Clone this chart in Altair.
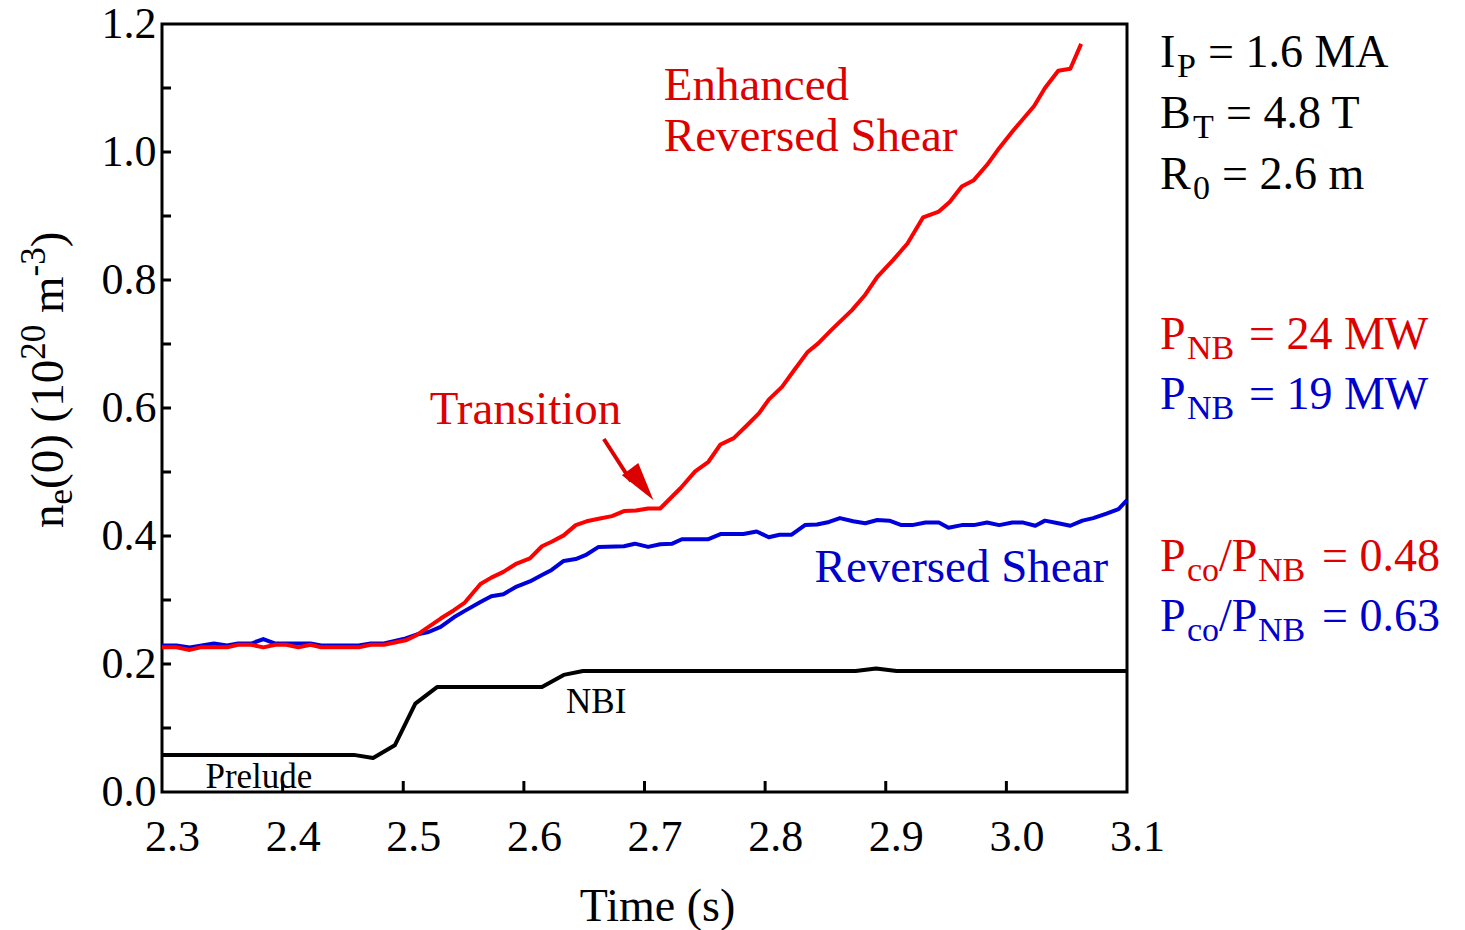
import altair as alt
import pandas as pd

FONT = "Liberation Serif"
RED_LINE = "#ff0000"
BLUE_LINE = "#0000dd"
RED_TEXT = "#dd0000"
BLUE_TEXT = "#0000cc"

# plot frame geometry (pixels)
LEFT, TOP = 162, 24
W, H = 965, 768

# Enhanced reversed shear discharge, central density (1e20 m^-3)
ers_time = [2.300, 2.312, 2.323, 2.332, 2.354, 2.363, 2.374, 2.384, 2.394, 2.403,
            2.413, 2.423, 2.432, 2.463, 2.473, 2.484, 2.502, 2.511, 2.521, 2.531,
            2.542, 2.551, 2.564, 2.573, 2.583, 2.594, 2.605, 2.615, 2.623, 2.633,
            2.643, 2.652, 2.662, 2.673, 2.683, 2.693, 2.703, 2.713, 2.730, 2.742,
            2.753, 2.763, 2.774, 2.785, 2.795, 2.803, 2.814, 2.824, 2.835, 2.844,
            2.855, 2.872, 2.883, 2.893, 2.906, 2.918, 2.931, 2.944, 2.953, 2.963,
            2.973, 2.984, 2.994, 3.005, 3.023, 3.032, 3.043, 3.053, 3.062]
ers_ne = [0.226, 0.226, 0.222, 0.226, 0.226, 0.230, 0.230, 0.226, 0.230, 0.230,
          0.226, 0.230, 0.226, 0.226, 0.230, 0.230, 0.237, 0.245, 0.258, 0.271,
          0.284, 0.296, 0.325, 0.335, 0.344, 0.357, 0.365, 0.384, 0.391, 0.401,
          0.417, 0.423, 0.427, 0.431, 0.439, 0.440, 0.443, 0.443, 0.475, 0.501,
          0.516, 0.543, 0.553, 0.573, 0.592, 0.613, 0.633, 0.659, 0.687, 0.701,
          0.722, 0.753, 0.777, 0.805, 0.831, 0.857, 0.898, 0.907, 0.922, 0.946,
          0.956, 0.980, 1.006, 1.032, 1.072, 1.100, 1.127, 1.130, 1.169]

# Reversed shear discharge
rs_time = [2.300, 2.312, 2.323, 2.343, 2.354, 2.363, 2.374, 2.384, 2.394, 2.423,
           2.432, 2.463, 2.473, 2.484, 2.502, 2.511, 2.521, 2.531, 2.542, 2.551,
           2.564, 2.573, 2.583, 2.594, 2.605, 2.615, 2.623, 2.633, 2.643, 2.652,
           2.662, 2.683, 2.692, 2.703, 2.713, 2.723, 2.731, 2.753, 2.763, 2.782,
           2.793, 2.803, 2.812, 2.822, 2.833, 2.843, 2.853, 2.862, 2.873, 2.883,
           2.893, 2.903, 2.913, 2.922, 2.933, 2.944, 2.952, 2.963, 2.973, 2.984,
           2.994, 3.005, 3.014, 3.024, 3.032, 3.043, 3.053, 3.063, 3.072, 3.083,
           3.093, 3.100]
rs_ne = [0.229, 0.229, 0.226, 0.232, 0.229, 0.232, 0.232, 0.239, 0.232, 0.232,
         0.229, 0.229, 0.232, 0.232, 0.240, 0.246, 0.250, 0.258, 0.273, 0.283,
         0.297, 0.306, 0.309, 0.321, 0.329, 0.339, 0.347, 0.361, 0.364, 0.371,
         0.383, 0.384, 0.388, 0.383, 0.387, 0.388, 0.395, 0.395, 0.403, 0.403,
         0.407, 0.398, 0.402, 0.402, 0.417, 0.418, 0.422, 0.428, 0.423, 0.420,
         0.425, 0.424, 0.417, 0.417, 0.421, 0.421, 0.413, 0.417, 0.417, 0.421,
         0.417, 0.421, 0.421, 0.416, 0.424, 0.420, 0.416, 0.424, 0.428, 0.435,
         0.442, 0.456]

# Neutral beam injection waveform (arbitrary units on the density axis)
nbi_time = [2.300, 2.459, 2.475, 2.493, 2.510, 2.528, 2.615, 2.633, 2.649,
            2.875, 2.892, 2.909, 3.100]
nbi_level = [0.058, 0.058, 0.053, 0.073, 0.138, 0.164, 0.164, 0.183, 0.189,
             0.189, 0.193, 0.189, 0.189]

x_labels = [2.3, 2.4, 2.5, 2.6, 2.7, 2.8, 2.9, 3.0, 3.1]
x_inner_ticks = [2.4, 2.5, 2.6, 2.7, 2.8, 2.9, 3.0]
y_labels = [0.0, 0.2, 0.4, 0.6, 0.8, 1.0, 1.2]
y_inner_ticks = [0.1, 0.2, 0.3, 0.4, 0.5, 0.6, 0.7, 0.8, 0.9, 1.0, 1.1]

xs = alt.Scale(domain=[2.3, 3.1], nice=False, zero=False)
ys = alt.Scale(domain=[0.0, 1.2], nice=False, zero=False)

x_axis = alt.Axis(values=x_labels, format=".1f", labelFont=FONT, labelFontSize=44,
                  labelColor="black", labelPadding=23, labelOffset=10, labelFlush=False,
                  labelOverlap=False, ticks=False, domain=False, grid=False,
                  title="Time (s)", titleFont=FONT, titleFontSize=46, titleFontWeight="normal",
                  titleColor="black", titleX=495, titleY=128, titleAlign="center",
                  titleBaseline="alphabetic", titleAnchor="start")
y_axis = alt.Axis(values=y_labels, format=".1f", labelFont=FONT, labelFontSize=44,
                  labelColor="black", labelPadding=6, labelFlush=False, labelOverlap=False,
                  labelBaseline="middle", ticks=False, domain=False, grid=False, title=None)


def X(field):
    return alt.X(field, scale=xs, axis=x_axis)


def Y(field):
    return alt.Y(field, scale=ys, axis=y_axis)


def series(times, values, color):
    df = pd.DataFrame({"t": times, "v": values})
    return alt.Chart(df).mark_line(color=color, strokeWidth=4, strokeJoin="round").encode(
        x=X("t:Q"), y=Y("v:Q"), order="t:Q")


nbi = series(nbi_time, nbi_level, "black")
rs = series(rs_time, rs_ne, BLUE_LINE)
ers = series(ers_time, ers_ne, RED_LINE)

# inward-pointing tick marks
y_tick_marks = alt.Chart(pd.DataFrame({"v": y_inner_ticks})).mark_rule(
    color="black", strokeWidth=3).encode(y=Y("v:Q"), x=alt.value(0), x2=alt.value(9))
x_tick_marks = alt.Chart(pd.DataFrame({"t": x_inner_ticks})).mark_rule(
    color="black", strokeWidth=3).encode(x=X("t:Q"), y=alt.value(H), y2=alt.value(H - 11))


def note(text, t, v, size, color):
    return alt.Chart(pd.DataFrame({"t": [t], "v": [v]})).mark_text(
        text=text, font=FONT, fontSize=size, color=color, align="left",
        baseline="alphabetic").encode(x=X("t:Q"), y=Y("v:Q"))


def px_text(text, px, py, size, color="black", angle=0):
    return alt.Chart(alt.Data(values=[{}])).mark_text(
        text=text, font=FONT, fontSize=size, color=color, align="left",
        baseline="alphabetic", angle=angle).encode(
        x=alt.value(px - LEFT), y=alt.value(py - TOP))


notes = [
    note("Enhanced", 2.716, 1.081, 47, RED_TEXT),
    note("Reversed Shear", 2.716, 1.002, 47, RED_TEXT),
    note("Transition", 2.522, 0.575, 47, RED_TEXT),
    note("Reversed Shear", 2.841, 0.328, 47, BLUE_TEXT),
    note("NBI", 2.635, 0.123, 35, "black"),
    note("Prelude", 2.336, 0.006, 35, "black"),
]

# arrow pointing at the transition
arrow_shaft = alt.Chart(pd.DataFrame({"t": [2.6663], "v": [0.5516], "t2": [2.6889], "v2": [0.4856]})).mark_rule(
    color=RED_TEXT, strokeWidth=4).encode(x=X("t:Q"), y=Y("v:Q"), x2="t2:Q", y2="v2:Q")
arrow_head = alt.Chart(pd.DataFrame({"t": [2.6977], "v": [0.4803]})).mark_point(
    shape="M0,-1L0.53,1L-0.53,1Z", size=1490, angle=143, filled=True,
    color=RED_TEXT, opacity=1, strokeWidth=0).encode(x=X("t:Q"), y=Y("v:Q"))

# rotated y-axis title: n_e(0) (10^20 m^-3)
MAIN, SMALL = 47, 35
ytitle = [
    px_text("n", 63, 528, MAIN, angle=270),
    px_text("e", 72, 504.5, SMALL, angle=270),
    px_text("(0) (10", 63, 489, MAIN, angle=270),
    px_text("20", 45, 359.8, SMALL, angle=270),
    px_text("m", 63, 313, MAIN, angle=270),
    px_text("-3", 45, 276.5, SMALL, angle=270),
    px_text(")", 63, 247.3, MAIN, angle=270),
]

# machine and heating parameters
BIG, SUB = 46, 34
params = [
    px_text("I", 1160, 67, BIG), px_text("P", 1177, 77, SUB), px_text("= 1.6 MA", 1208, 67, BIG),
    px_text("B", 1160, 128, BIG), px_text("T", 1193, 138, SUB), px_text("= 4.8 T", 1226, 128, BIG),
    px_text("R", 1160, 189, BIG), px_text("0", 1193, 199, SUB), px_text("= 2.6 m", 1222, 189, BIG),
    px_text("P", 1160, 349, BIG, RED_TEXT), px_text("NB", 1187, 359, SUB, RED_TEXT),
    px_text("= 24 MW", 1249, 349, BIG, RED_TEXT),
    px_text("P", 1160, 409, BIG, BLUE_TEXT), px_text("NB", 1187, 419, SUB, BLUE_TEXT),
    px_text("= 19 MW", 1249, 409, BIG, BLUE_TEXT),
    px_text("P", 1160, 571, BIG, RED_TEXT), px_text("co", 1187, 581, SUB, RED_TEXT),
    px_text("/P", 1219, 571, BIG, RED_TEXT), px_text("NB", 1258, 581, SUB, RED_TEXT),
    px_text("= 0.48", 1322, 571, BIG, RED_TEXT),
    px_text("P", 1160, 631, BIG, BLUE_TEXT), px_text("co", 1187, 641, SUB, BLUE_TEXT),
    px_text("/P", 1219, 631, BIG, BLUE_TEXT), px_text("NB", 1258, 641, SUB, BLUE_TEXT),
    px_text("= 0.63", 1322, 631, BIG, BLUE_TEXT),
]

chart = alt.layer(
    nbi, rs, ers, y_tick_marks, x_tick_marks, arrow_shaft, arrow_head,
    *notes, *ytitle, *params,
).properties(
    width=W, height=H,
    padding={"left": LEFT, "top": TOP, "right": 1465 - LEFT - W, "bottom": 930 - TOP - H},
    autosize=alt.AutoSizeParams(type="none"),
    background="white",
).configure_view(stroke="black", strokeWidth=3)

chart.save("out.html", embed_options={"renderer": "svg", "actions": False})
